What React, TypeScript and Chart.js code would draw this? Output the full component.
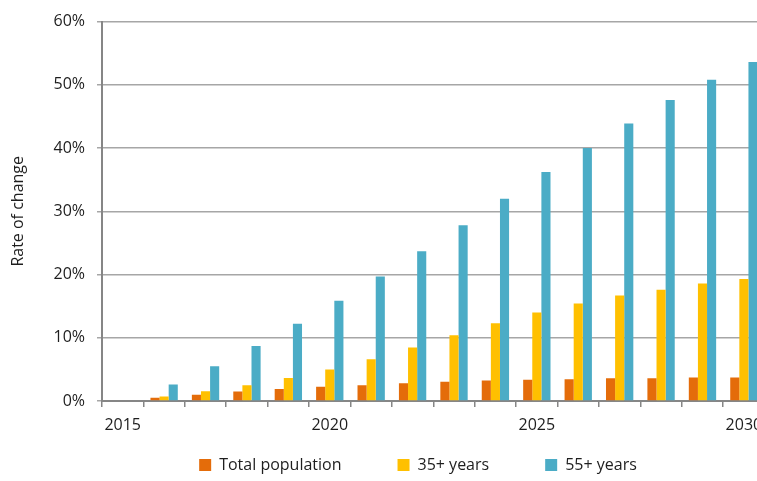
import React, { useEffect, useRef } from 'react';
import { Chart, registerables } from 'chart.js';

Chart.register(...registerables);

const years = ['2015', '2016', '2017', '2018', '2019', '2020', '2021', '2022', '2023', '2024', '2025', '2026', '2027', '2028', '2029', '2030'];
const labeledYears = ['2015', '2020', '2025', '2030'];
const totalPopulation = [0, 0.5, 1.0, 1.5, 1.9, 2.25, 2.5, 2.8, 3.05, 3.25, 3.35, 3.45, 3.6, 3.6, 3.7, 3.7];
const age35Plus = [0, 0.7, 1.55, 2.5, 3.65, 5.0, 6.6, 8.45, 10.4, 12.3, 14.0, 15.4, 16.7, 17.6, 18.6, 19.3];
const age55Plus = [0, 2.6, 5.5, 8.7, 12.2, 15.85, 19.7, 23.7, 27.8, 32.0, 36.2, 40.0, 43.9, 47.6, 50.8, 53.6];
const seriesNames = ['Total population', '35+ years', '55+ years'];
const seriesColors = ['#E46C0A', '#FFC000', '#4BACC6'];
const yMin = 0;
const yMax = 60;
const yStep = 10;

const FONT = 'Open Sans';
const TEXT = '#1e1e1e';

// Lets the x tick labels draw below a zero-height x axis box (Chart.js clips labels to the box).
const xLabelArea = {
  id: 'xLabelArea',
  afterLayout(chart: any) {
    const s = chart.scales.x;
    if (s) s.bottom = s.top + 45;
  },
};

export default function App() {
  const ref = useRef<HTMLCanvasElement | null>(null);

  useEffect(() => {
    if (!ref.current) return;
    const chart = new Chart(ref.current, {
      type: 'bar',
      data: {
        labels: years,
        datasets: [totalPopulation, age35Plus, age55Plus].map((d, i) => ({
          label: seriesNames[i],
          data: d,
          backgroundColor: seriesColors[i],
          borderWidth: 0,
          yAxisID: 'y',
          categoryPercentage: 0.66,
          barPercentage: 1.0,
        })),
      },
      plugins: [xLabelArea],
      options: {
        animation: false,
        responsive: false,
        layout: { padding: { top: 20, left: 0, right: 0, bottom: 0 } },
        plugins: {
          tooltip: { enabled: false },
          legend: {
            position: 'bottom',
            labels: {
              boxWidth: 12,
              boxHeight: 12,
              padding: 56,
              color: TEXT,
              font: { family: FONT, size: 16 },
            },
          },
        },
        scales: {
          x: {
            type: 'category',
            offset: true,
            grid: {
              display: true,
              drawOnChartArea: false,
              drawTicks: true,
              tickLength: 6,
              color: '#868686',
              lineWidth: 1.5,
              offset: true,
            },
            border: { display: true, color: '#868686', width: 2 },
            ticks: {
              autoSkip: false,
              maxRotation: 0,
              padding: 9,
              color: TEXT,
              font: { family: FONT, size: 16 },
              callback: (_v: any, i: number) => (labeledYears.includes(years[i]) ? years[i] : ''),
            },
            afterFit: (s: any) => {
              s.height = 0;
            },
          },
          y: {
            type: 'linear',
            min: yMin,
            max: yMax,
            ticks: {
              stepSize: yStep,
              padding: 12,
              color: TEXT,
              font: { family: FONT, size: 16 },
              callback: (v: any) => `${v}%`,
            },
            grid: { color: '#a6a6a6', lineWidth: 1.5, tickLength: 5, drawTicks: true },
            border: { display: true, color: '#868686', width: 2 },
            title: {
              display: true,
              text: 'Rate of change',
              color: TEXT,
              font: { family: FONT, size: 16 },
              padding: { top: 9, bottom: 0 },
            },
            afterFit: (s: any) => {
              s.width = 102;
            },
          },
          y2: {
            type: 'linear',
            position: 'right',
            display: true,
            grid: { display: false },
            border: { display: false },
            ticks: { display: false },
            afterFit: (s: any) => {
              s.width = 71.4;
            },
          },
        },
      },
    });
    return () => chart.destroy();
  }, []);

  return (
    <div style={{ position: 'fixed', left: 0, top: 0, width: 757, height: 481, overflow: 'hidden', background: '#fff' }}>
      <canvas ref={ref} width={836} height={483} style={{ display: 'block', width: 836, height: 483 }} />
    </div>
  );
}
